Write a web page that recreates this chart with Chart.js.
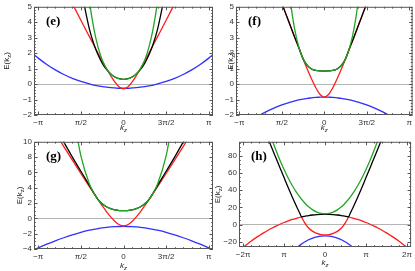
<!DOCTYPE html>
<html>
<head>
<meta charset="utf-8">
<script src="https://cdn.jsdelivr.net/npm/chart.js@4.4.1/dist/chart.umd.min.js"></script>
<style>
  body { margin: 0; background: #fff; }
  #wrap { position: relative; width: 415px; height: 271px; overflow: hidden; }
  canvas { position: absolute; }
</style>
</head>
<body>
<div id="wrap">
  <canvas id="pe" width="218" height="135" style="left:0;top:0"></canvas>
  <canvas id="pf" width="208" height="135" style="left:207px;top:0"></canvas>
  <canvas id="pg" width="218" height="136" style="left:0;top:135px"></canvas>
  <canvas id="ph" width="208" height="136" style="left:207px;top:135px"></canvas>
</div>
<script>
// k_z in units of pi, only k >= 0 (bands are symmetric in k)
const kHalf = [0, 0.05, 0.1, 0.15, 0.2, 0.25, 0.3, 0.35, 0.4, 0.5, 0.6, 0.7, 0.8, 0.9, 1.0, 1.1];
const hK = [0, 0.1, 0.2, 0.3, 0.4, 0.45, 0.5, 0.55, 0.575, 0.6, 0.7, 0.8, 0.9, 1.0, 1.1, 1.2, 1.3, 1.4, 1.5, 1.6, 1.7, 1.8, 1.9, 2.0, 2.1];

// (e)
const eBlue  = [-0.27, -0.27, -0.25, -0.23, -0.20, -0.16, -0.11, -0.06, 0.01, 0.17, 0.37, 0.62, 0.92, 1.27, 1.68, 2.15];
const eRed   = [-0.31, -0.19, 0.12, 0.54, 1.01, 1.50, 2.01, 2.54, 3.07, 4.13, 5.21];
const eBlack = [0.31, 0.35, 0.46, 0.66, 0.95, 1.36, 1.91, 2.63, 3.56, 6.19];
const eGreen = [0.30, 0.33, 0.44, 0.65, 1.00, 1.56, 2.42, 3.66, 5.40, 10.98];

// (f)
const fBlue  = [-0.84, -0.85, -0.86, -0.89, -0.92, -0.97, -1.02, -1.09, -1.16, -1.35, -1.57, -1.83, -2.14];
const fRed   = [-0.84, -0.67, -0.24, 0.33, 0.96, 1.64, 2.34, 3.05, 3.77, 5.22];
const fBlack = [0.84, 0.85, 0.88, 0.98, 1.20, 1.63, 2.36, 3.05, 3.77, 5.22];
const fGreen = [0.84, 0.85, 0.88, 0.98, 1.20, 1.63, 2.38, 3.59, 5.42, 11.7];

// (g)
const gBlue  = [-1.05, -1.06, -1.08, -1.12, -1.17, -1.24, -1.33, -1.43, -1.55, -1.83, -2.16, -2.53, -2.93, -3.37, -3.85, -4.35];
const gRed   = [-0.99, -0.83, -0.41, 0.19, 0.89, 1.65, 2.46, 3.29, 4.14, 5.86, 7.61, 9.38, 11.16];
const gBlack = [1.00, 1.02, 1.10, 1.26, 1.51, 1.90, 2.49, 3.35, 4.30, 6.15, 8.00, 9.95, 11.9];
const gGreen = [1.00, 1.02, 1.10, 1.26, 1.51, 1.90, 2.49, 3.33, 4.49, 8.17, 14.3];

// (h)
const hBlue  = [-13, -13.3, -14.2, -15.6, -17.6, -18.9, -20.2, -21.7, -22.6, -23.4, -27.2, -31.5];
const hRed   = [-12, -11.6, -10.3, -7.9, -3.9, -1.1, 2.3, 6.6, 8.9, 8.5, 7.3, 5.9, 4.2, 2.4, 0.4, -1.8, -4.2, -6.8, -9.6, -12.6, -15.7, -19.1, -22.7, -26.4, -30.3];
const hBlack = [12, 11.9, 11.6, 11.1, 10.5, 10.1, 9.6, 9.1, 8.9, 11.5, 21.5, 32, 43, 54.5, 66, 77.5, 89, 101];
const hGreen = [12.4, 12.9, 14.5, 17.0, 20.6, 22.8, 25.3, 28.0, 29.4, 30.9, 37.6, 45.3, 54.0, 63.8, 74.6, 86.4, 99.3];

// tick labels (as printed on the figure)
const kTicks = [-1, -0.5, 0, 0.5, 1];
const kTickLabels = ['\u2212\u03c0', '\u03c0/2', '0', '3\u03c0/2', '\u03c0'];
const hTicks = [-2, -1, 0, 1, 2];
const hTickLabels = ['\u22122\u03c0', '\u03c0', '0', '\u03c0', '2\u03c0'];
const efYTicks = [-2, -1, 0, 1, 2, 3, 4, 5];
const gYTicks = [-4, -2, 0, 2, 4, 6, 8, 10];
const hYTicks = [-20, 0, 20, 40, 60, 80];

const colors = { blue: '#2f2fff', red: '#ff1c1c', black: '#000000', green: '#22a522' };
const tickFont = { family: 'Liberation Sans', size: 8 };

function mirror(ks, vals) {
  const pts = [];
  for (let i = vals.length - 1; i > 0; i--) pts.push({ x: -ks[i], y: vals[i] });
  for (let i = 0; i < vals.length; i++) pts.push({ x: ks[i], y: vals[i] });
  return pts;
}

function band(ks, vals, color) {
  return { data: mirror(ks, vals), borderColor: color, borderWidth: 1.3, pointRadius: 0,
           cubicInterpolationMode: 'monotone', fill: false };
}

function minus(v) {
  return v < 0 ? '\u2212' + Math.abs(v) : String(v);
}

// frame with inward ticks, axis titles and panel letter
const framePlugin = {
  id: 'frame',
  afterDatasetsDraw(chart, args, o) {
    const { ctx, chartArea: a } = chart;
    const x = chart.scales.x, y = chart.scales.y;
    ctx.save();
    ctx.strokeStyle = '#555';
    ctx.lineWidth = 1;
    ctx.beginPath();
    const isMajor = (list, v) => list.some(t => Math.abs(t - v) < 1e-6);
    for (let i = Math.ceil(x.min / o.xMinor - 1e-9); i * o.xMinor <= x.max + 1e-9; i++) {
      const v = i * o.xMinor, px = Math.round(x.getPixelForValue(v)) + 0.5;
      const len = isMajor(o.xTicks, v) ? 3.5 : 1.8;
      ctx.moveTo(px, a.bottom); ctx.lineTo(px, a.bottom - len);
      ctx.moveTo(px, a.top); ctx.lineTo(px, a.top + len);
    }
    for (let i = Math.ceil(y.min / o.yMinor - 1e-9); i * o.yMinor <= y.max + 1e-9; i++) {
      const v = i * o.yMinor, py = Math.round(y.getPixelForValue(v)) + 0.5;
      const len = isMajor(o.yTicks, v) ? 3.5 : 1.8;
      ctx.moveTo(a.left, py); ctx.lineTo(a.left + len, py);
      ctx.moveTo(a.right, py); ctx.lineTo(a.right - len, py);
    }
    ctx.stroke();
    ctx.strokeRect(a.left + 0.5, a.top + 0.5, a.right - a.left - 1, a.bottom - a.top - 1);
    ctx.restore();
  },
  afterDraw(chart, args, o) {
    const { ctx, chartArea: a } = chart;
    ctx.save();
    ctx.fillStyle = '#222';
    ctx.textBaseline = 'middle';
    // x title: k_z
    const cx = (a.left + a.right) / 2;
    ctx.font = 'italic 8px "Liberation Sans"';
    const wk = ctx.measureText('k').width;
    ctx.font = 'italic 6px "Liberation Sans"';
    const wz = ctx.measureText('z').width;
    let sx = cx - (wk + wz) / 2;
    ctx.font = 'italic 8px "Liberation Sans"';
    ctx.fillText('k', sx, o.xTitleY);
    ctx.font = 'italic 6px "Liberation Sans"';
    ctx.fillText('z', sx + wk, o.xTitleY + 2);
    // y title: E(k_z), rotated
    ctx.translate(o.yTitleX, (a.top + a.bottom) / 2);
    ctx.rotate(-Math.PI / 2);
    ctx.font = '8px "Liberation Sans"';
    const w1 = ctx.measureText('E(k').width, w3 = ctx.measureText(')').width;
    ctx.font = '6px "Liberation Sans"';
    const w2 = ctx.measureText('z').width;
    let ty = -(w1 + w2 + w3) / 2;
    ctx.font = '8px "Liberation Sans"';
    ctx.fillText('E(k', ty, 0);
    ctx.font = '6px "Liberation Sans"';
    ctx.fillText('z', ty + w1, 2);
    ctx.font = '8px "Liberation Sans"';
    ctx.fillText(')', ty + w1 + w2, 0);
    ctx.restore();
    // panel letter
    ctx.save();
    ctx.fillStyle = '#000';
    ctx.font = 'bold 13px "Liberation Serif"';
    ctx.textBaseline = 'alphabetic';
    ctx.fillText(o.label, a.left + 12, a.top + 18);
    ctx.restore();
  }
};

function makePanel(id, p) {
  new Chart(document.getElementById(id), {
    type: 'line',
    plugins: [framePlugin],
    data: {
      datasets: [
        band(p.ks, p.green, colors.green),
        band(p.ks, p.black, colors.black),
        band(p.ks, p.red, colors.red),
        band(p.ks, p.blue, colors.blue)
      ]
    },
    options: {
      responsive: false,
      animation: false,
      devicePixelRatio: 1,
      layout: { padding: { left: 0, top: p.area.t, right: p.W - p.area.r, bottom: 0 } },
      plugins: {
        legend: { display: false },
        tooltip: { enabled: false },
        frame: {
          label: p.label, xTicks: p.xTicks, yTicks: p.yTicks, xMinor: p.xMinor, yMinor: p.yMinor,
          xTitleY: p.xTitleY, yTitleX: p.yTitleX
        }
      },
      scales: {
        x: {
          type: 'linear',
          min: -p.xMax,
          max: p.xMax,
          afterFit: s => { s.height = p.H - p.area.b; },
          afterBuildTicks: s => { s.ticks = p.xTicks.map(v => ({ value: v })); },
          grid: { display: false, drawTicks: false },
          border: { display: false },
          ticks: {
            autoSkip: false, maxRotation: 0, padding: 3, color: '#333', font: tickFont,
            callback: v => p.xLabels[p.xTicks.indexOf(v)]
          }
        },
        y: {
          type: 'linear',
          min: p.yMin,
          max: p.yMax,
          afterFit: s => { s.width = p.area.l; },
          afterBuildTicks: s => { s.ticks = p.yTicks.map(v => ({ value: v })); },
          grid: {
            drawTicks: false,
            color: c => (c.tick && c.tick.value === 0 ? '#b4b4b4' : 'rgba(0,0,0,0)')
          },
          border: { display: false },
          ticks: { autoSkip: false, padding: 2, color: '#333', font: tickFont, callback: v => minus(v) }
        }
      }
    }
  });
}

makePanel('pe', {
  W: 218, H: 135, area: { l: 34, t: 4, r: 213, b: 115 }, label: '(e)',
  ks: kHalf, blue: eBlue, red: eRed, black: eBlack, green: eGreen,
  xMax: 1.05, xTicks: kTicks, xLabels: kTickLabels, xMinor: 0.1,
  yMin: -2, yMax: 5, yTicks: efYTicks, yMinor: 0.2, xTitleY: 128, yTitleX: 7
});
makePanel('pf', {
  W: 208, H: 135, area: { l: 29, t: 4, r: 206, b: 115 }, label: '(f)',
  ks: kHalf, blue: fBlue, red: fRed, black: fBlack, green: fGreen,
  xMax: 1.04, xTicks: kTicks, xLabels: kTickLabels, xMinor: 0.1,
  yMin: -2, yMax: 5, yTicks: efYTicks, yMinor: 0.2, xTitleY: 128, yTitleX: 24
});
makePanel('pg', {
  W: 218, H: 136, area: { l: 34, t: 4, r: 213, b: 114 }, label: '(g)',
  ks: kHalf, blue: gBlue, red: gRed, black: gBlack, green: gGreen,
  xMax: 1.05, xTicks: kTicks, xLabels: kTickLabels, xMinor: 0.1,
  yMin: -4, yMax: 10, yTicks: gYTicks, yMinor: 0.5, xTitleY: 131, yTitleX: 20
});
makePanel('ph', {
  W: 208, H: 136, area: { l: 32, t: 4, r: 206, b: 112 }, label: '(h)',
  ks: hK, blue: hBlue, red: hRed, black: hBlack, green: hGreen,
  xMax: 2.1, xTicks: hTicks, xLabels: hTickLabels, xMinor: 0.2,
  yMin: -26, yMax: 96, yTicks: hYTicks, yMinor: 5, xTitleY: 128, yTitleX: 11
});
</script>
</body>
</html>
